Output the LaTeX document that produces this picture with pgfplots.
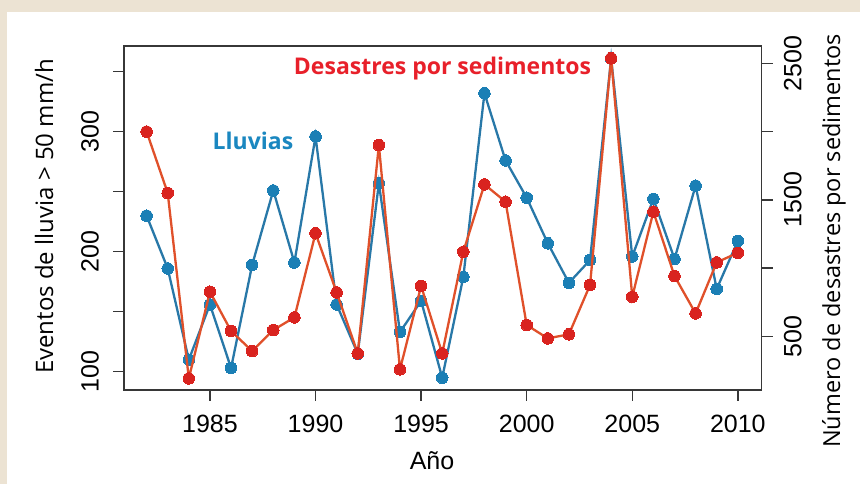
\documentclass[border=0pt]{standalone}
\usepackage{pgfplots}
\pgfplotsset{compat=1.18}
\usepackage{fontspec}
\setmainfont{Open Sans}
\newfontfamily\tickfont{Liberation Sans}
\definecolor{bg}{RGB}{236,227,211}
\definecolor{axiscol}{RGB}{55,55,55}
\definecolor{blueP}{RGB}{27,127,181}
\definecolor{blueL}{RGB}{40,120,168}
\definecolor{redP}{RGB}{217,35,31}
\definecolor{redL}{RGB}{224,80,42}
\definecolor{txtred}{RGB}{232,32,42}
\definecolor{txtblue}{RGB}{26,135,192}

\pgfplotstableread{
year val
1982 230
1983 186
1984 110
1985 156
1986 103
1987 189
1988 251
1989 191
1990 296
1991 156
1992 115
1993 257
1994 133
1995 159
1996 95
1997 179
1998 332
1999 276
2000 245
2001 207
2002 174
2003 193
2004 361
2005 196
2006 244
2007 194
2008 255
2009 169
2010 209
}\lluvias

\pgfplotstableread{
year val
1982 2000
1983 1550
1984 192
1985 827
1986 539
1987 392
1988 546
1989 639
1990 1255
1991 822
1992 375
1993 1901
1994 258
1995 869
1996 375
1997 1120
1998 1613
1999 1486
2000 583
2001 485
2002 515
2003 876
2004 2537
2005 790
2006 1413
2007 942
2008 668
2009 1042
2010 1112
}\desastres

\begin{document}
\begin{tikzpicture}[x=1pt,y=1pt]
\useasboundingbox (0,0) rectangle (860,484);
\fill[bg] (0,0) rectangle (860,484);
\fill[white] (7,0) rectangle (860,472);
\pgfplotsset{
  myaxis/.style={
    at={(124pt,94pt)}, anchor=south west,
    scale only axis, width=637.7pt, height=344pt,
    xmin=1980.93, xmax=2011.13,
    axis line style={draw=axiscol, line width=1.5pt},
    tick align=outside, major tick length=11pt,
    tick style={draw=axiscol, line width=1.5pt},
    /pgf/number format/assume math mode=true,
    /pgf/number format/1000 sep={},
    ticklabel style={font=\tickfont\fontsize{25}{25}\selectfont, inner sep=0pt},
  }
}
\begin{axis}[myaxis,
  ymin=84.75, ymax=371.4,
  xtick={1985,1990,...,2010},
  ytick={100,150,...,350},
  yticklabels={100,,200,,300,},
  tick pos=left,
  xticklabel style={anchor=north},
  xticklabel shift=14pt,
  yticklabel style={rotate=90, anchor=south},
  yticklabel shift=14pt,
]
\addplot[blueL, line width=2.3pt, mark=*, mark size=5.8pt,
  mark options={fill=blueP, draw=blueP, line width=0pt}] table[x=year,y=val] {\lluvias};
\end{axis}
\begin{axis}[myaxis,
  ymin=107, ymax=2627,
  axis x line=none,
  axis y line*=right,
  ytick={500,1000,...,2500},
  yticklabels={500,,1500,,2500},
  yticklabel style={rotate=90, anchor=north},
  yticklabel shift=11pt,
]
\addplot[redL, line width=2.3pt, mark=*, mark size=5.8pt,
  mark options={fill=redP, draw=redP, line width=0pt}] table[x=year,y=val] {\desastres};
\end{axis}
\node[font=\bfseries\fontsize{23}{23}\selectfont, text=txtblue, anchor=base] at (253,334) {Lluvias};
\node[font=\bfseries\fontsize{23}{23}\selectfont, text=txtred, anchor=base] at (442.5,409) {Desastres por sedimentos};
\node[font=\fontsize{24}{24}\selectfont, rotate=90, anchor=base] at (53,267.5) {Eventos de lluvia > 50 mm/h};
\node[font=\fontsize{23.5}{23.5}\selectfont, rotate=90, anchor=base] at (840,243) {Número de desastres por sedimentos};
\node[font=\tickfont\fontsize{25}{25}\selectfont, anchor=base] at (432,14) {Año};
\end{tikzpicture}
\end{document}
